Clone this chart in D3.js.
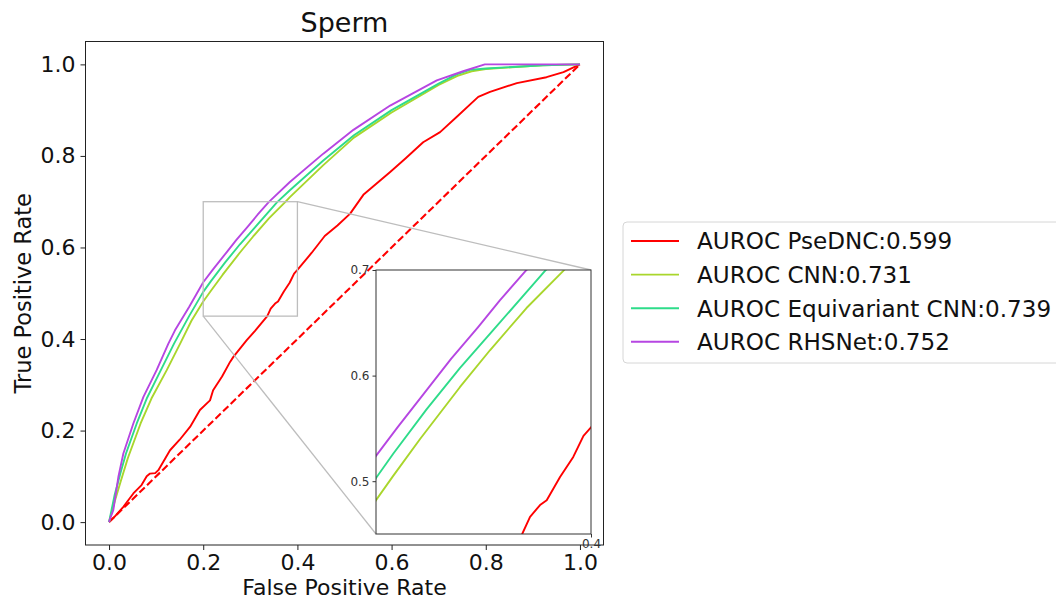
<!DOCTYPE html>
<html><head><meta charset="utf-8">
<script src="https://cdn.jsdelivr.net/npm/d3@7/dist/d3.min.js"></script>
<style>body{margin:0;background:#fff;} svg{display:block;font-family:"DejaVu Sans",sans-serif;}</style>
</head><body><svg id="c" width="1056" height="600"></svg>
<script>
// ---- data ----
const seriesNames = ["AUROC PseDNC:0.599","AUROC CNN:0.731","AUROC Equivariant CNN:0.739","AUROC RHSNet:0.752"];
const seriesColors = ["#ff0000","#a9d62c","#2edc8a","#b646e2"];
const psednc = [[0,0],[0.012,0.012],[0.03,0.033],[0.0516,0.0626],[0.069,0.081],[0.08,0.1],[0.087,0.106],[0.098,0.107],[0.1047,0.1135],[0.1295,0.157],[0.15,0.18],[0.172,0.208],[0.193,0.245],[0.2144,0.266],[0.221,0.288],[0.24,0.318],[0.257,0.35],[0.264,0.361],[0.292,0.397],[0.31,0.418],[0.336,0.45],[0.3433,0.4663],[0.3526,0.4774],[0.3588,0.482],[0.3712,0.504],[0.3835,0.523],[0.393,0.543],[0.4,0.551],[0.43,0.588],[0.458,0.625],[0.485,0.648],[0.512,0.674],[0.54,0.715],[0.597,0.765],[0.63,0.795],[0.667,0.83],[0.703,0.852],[0.738,0.885],[0.784,0.929],[0.809,0.94],[0.866,0.959],[0.929,0.972],[0.965,0.983],[1,1]];
const cnn = [[0,0],[0.004,0.015],[0.012,0.045],[0.025,0.09],[0.04,0.14],[0.067,0.2155],[0.09,0.27],[0.1225,0.332],[0.151,0.39],[0.175,0.44],[0.2,0.482],[0.216,0.505],[0.241,0.54],[0.278,0.589],[0.306,0.624],[0.34,0.664],[0.374,0.699],[0.384,0.71],[0.455,0.78],[0.52,0.84],[0.6,0.895],[0.7,0.955],[0.74,0.975],[0.77,0.985],[0.8,0.99],[0.92,0.998],[1,1]];
const eqcnn = [[0,0],[0.004,0.02],[0.012,0.06],[0.025,0.11],[0.036,0.15],[0.0588,0.2155],[0.08,0.27],[0.11,0.332],[0.138,0.39],[0.17,0.45],[0.2,0.503],[0.216,0.526],[0.247,0.568],[0.278,0.607],[0.309,0.643],[0.357,0.699],[0.384,0.725],[0.455,0.79],[0.52,0.845],[0.6,0.9],[0.7,0.958],[0.738,0.978],[0.766,0.988],[0.8,0.991],[0.922,0.998],[1,1]];
const rhsnet = [[0,0],[0.003,0.01],[0.009,0.026],[0.02,0.1],[0.0304,0.15],[0.0516,0.2155],[0.073,0.2737],[0.101,0.332],[0.126,0.39],[0.14,0.419],[0.17,0.47],[0.2,0.524],[0.22,0.551],[0.25,0.59],[0.27,0.616],[0.295,0.646],[0.315,0.671],[0.339,0.699],[0.384,0.743],[0.455,0.805],[0.519,0.857],[0.597,0.91],[0.696,0.965],[0.752,0.985],[0.798,1],[1,1]];
const chance = [[0,0],[1,1]];
const mainTicks = [0,0.2,0.4,0.6,0.8,1.0];
const insetYTicks = [0.5,0.6,0.7];
const insetXTickShown = [0.4];
const zoomX = [0.2,0.4], zoomY = [0.45,0.7];
const titleText = "Sperm", xLabel = "False Positive Rate", yLabel = "True Positive Rate";

const svg = d3.select("#c");
const x = d3.scaleLinear().domain([-0.05,1.05]).range([85.5,603.5]);
const y = d3.scaleLinear().domain([-0.05,1.05]).range([545,41.5]);
const allSeries = [psednc, cnn, eqcnn, rhsnet];

function drawLines(g, xs, ys){
  const line = d3.line().x(d=>xs(d[0])).y(d=>ys(d[1]));
  g.append("path").attr("d", line(chance)).attr("fill","none").attr("stroke","#ff0000")
    .attr("stroke-width",2.1).attr("stroke-dasharray","7.4,3.2");
  allSeries.forEach((s,i)=>{
    g.append("path").attr("d", line(s)).attr("fill","none").attr("stroke",seriesColors[i])
      .attr("stroke-width",1.9).attr("stroke-linejoin","round");
  });
}

// main plot clip
svg.append("clipPath").attr("id","mclip").append("rect")
  .attr("x",x(-0.05)).attr("y",y(1.05)).attr("width",x(1.05)-x(-0.05)).attr("height",y(-0.05)-y(1.05));
const gm = svg.append("g").attr("clip-path","url(#mclip)");
drawLines(gm, x, y);

// main axes
const xAxis = d3.axisBottom(x).tickValues(mainTicks).tickFormat(d3.format(".1f")).tickSize(5).tickPadding(2.5);
const yAxis = d3.axisLeft(y).tickValues(mainTicks).tickFormat(d3.format(".1f")).tickSize(5).tickPadding(5);
const gx = svg.append("g").attr("transform",`translate(0,${y(-0.05)})`).call(xAxis);
const gy = svg.append("g").attr("transform",`translate(${x(-0.05)},0)`).call(yAxis);
[gx,gy].forEach(g=>{
  g.select(".domain").remove();
  g.selectAll("line").attr("stroke","#222").attr("stroke-width",1);
  g.selectAll("text").attr("fill","#111").style("font-size","22px").style("font-family","DejaVu Sans");
});
gx.selectAll("text").attr("dy","0.78em");
svg.append("rect").attr("x",x(-0.05)).attr("y",y(1.05)).attr("width",x(1.05)-x(-0.05)).attr("height",y(-0.05)-y(1.05))
  .attr("fill","none").attr("stroke","#222").attr("stroke-width",1);

// zoom rectangle and connectors
const ix = d3.scaleLinear().domain(zoomX).range([376,591]);
const iy = d3.scaleLinear().domain(zoomY).range([534,270]);
svg.append("rect").attr("x",x(zoomX[0])).attr("y",y(zoomY[1])).attr("width",x(zoomX[1])-x(zoomX[0]))
  .attr("height",y(zoomY[0])-y(zoomY[1])).attr("fill","none").attr("stroke","#bdbdbd").attr("stroke-width",1.3);
svg.append("line").attr("x1",x(zoomX[0])).attr("y1",y(zoomY[0])).attr("x2",ix(zoomX[0])).attr("y2",iy(zoomY[0]))
  .attr("stroke","#bdbdbd").attr("stroke-width",1.3);
svg.append("line").attr("x1",x(zoomX[1])).attr("y1",y(zoomY[1])).attr("x2",ix(zoomX[1])).attr("y2",iy(zoomY[1]))
  .attr("stroke","#bdbdbd").attr("stroke-width",1.3);

// inset
svg.append("rect").attr("x",ix(zoomX[0])).attr("y",iy(zoomY[1])).attr("width",ix(zoomX[1])-ix(zoomX[0]))
  .attr("height",iy(zoomY[0])-iy(zoomY[1])).attr("fill","#fff");
svg.append("clipPath").attr("id","iclip").append("rect")
  .attr("x",ix(zoomX[0])).attr("y",iy(zoomY[1])).attr("width",ix(zoomX[1])-ix(zoomX[0])).attr("height",iy(zoomY[0])-iy(zoomY[1]));
const gi = svg.append("g").attr("clip-path","url(#iclip)");
drawLines(gi, ix, iy);
svg.append("rect").attr("x",ix(zoomX[0])).attr("y",iy(zoomY[1])).attr("width",ix(zoomX[1])-ix(zoomX[0]))
  .attr("height",iy(zoomY[0])-iy(zoomY[1])).attr("fill","none").attr("stroke","#333").attr("stroke-width",1);
const giy = svg.append("g").attr("transform",`translate(${ix(zoomX[0])},0)`)
  .call(d3.axisLeft(iy).tickValues(insetYTicks).tickFormat(d3.format(".1f")).tickSize(3.5).tickPadding(3));
const gix = svg.append("g").attr("transform",`translate(0,${iy(zoomY[0])})`)
  .call(d3.axisBottom(ix).tickValues(insetXTickShown).tickFormat(d3.format(".1f")).tickSize(3.5).tickPadding(2));
[giy,gix].forEach(g=>{
  g.select(".domain").remove();
  g.selectAll("line").attr("stroke","#333");
  g.selectAll("text").attr("fill","#333").style("font-size","12px").style("font-family","DejaVu Sans");
});

// title and labels
svg.append("text").attr("x",(x(-0.05)+x(1.05))/2).attr("y",32).attr("text-anchor","middle")
  .style("font-size","27px").attr("fill","#111").text(titleText);
svg.append("text").attr("x",(x(-0.05)+x(1.05))/2).attr("y",594.7).attr("text-anchor","middle")
  .style("font-size","22px").attr("fill","#111").text(xLabel);
svg.append("text").attr("transform",`translate(31,${(y(-0.05)+y(1.05))/2}) rotate(-90)`).attr("text-anchor","middle")
  .style("font-size","22.5px").attr("fill","#111").text(yLabel);

// legend
const lg = svg.append("g");
lg.append("rect").attr("x",623).attr("y",222).attr("width",460).attr("height",141).attr("rx",4)
  .attr("fill","#fff").attr("fill-opacity",0.8).attr("stroke","#d6d6d6").attr("stroke-width",1);
seriesNames.forEach((n,i)=>{
  const yy = 241 + i*33.6;
  lg.append("line").attr("x1",631).attr("x2",679).attr("y1",yy).attr("y2",yy)
    .attr("stroke",seriesColors[i]).attr("stroke-width",1.9);
  lg.append("text").attr("x",697).attr("y",yy).attr("dy","0.36em").style("font-size","23.1px")
    .attr("fill","#111").text(n);
});
</script></body></html>
